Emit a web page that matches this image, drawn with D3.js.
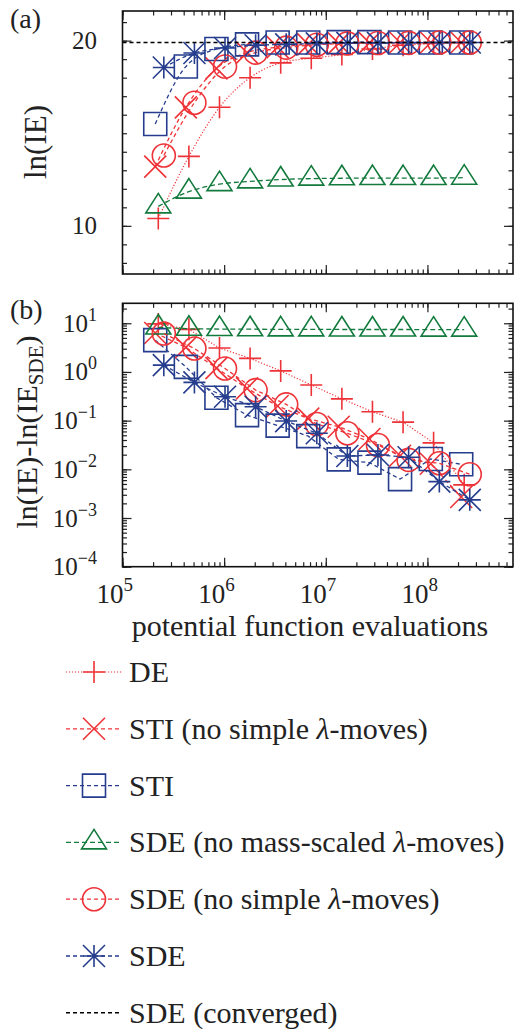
<!DOCTYPE html>
<html>
<head>
<meta charset="utf-8">
<title>IE convergence</title>
<script src="https://cdn.jsdelivr.net/npm/d3@7"></script>
<style>
  body { margin: 0; background: #fff; }
  svg text { font-family: "Liberation Serif", "Times New Roman", serif; fill: #222; }
</style>
</head>
<body>
<svg id="chart" width="515" height="1032"></svg>
<script>
// evaluation counts (x) for each group of runs
var evalsDE  = [2.25e5, 4.5e5, 9.0e5, 1.8e6, 3.6e6, 7.2e6, 1.44e7, 2.88e7, 5.76e7, 1.15e8, 2.3e8];
var evalsSTI = [2.1e5, 4.2e5, 8.4e5, 1.68e6, 3.36e6, 6.72e6, 1.34e7, 2.69e7, 5.38e7, 1.08e8, 2.15e8];
var evalsSDE = [2.55e5, 5.1e5, 1.02e6, 2.04e6, 4.08e6, 8.16e6, 1.63e7, 3.26e7, 6.53e7, 1.31e8, 2.61e8];

// panel (a): ln(IE)
var ieDE          = [10.4, 13.75, 16.4, 18.0, 18.8, 19.05, 19.25, 19.55, 19.75, 19.85, 19.9];
var ieSTInoSimple = [13.2, 16.4, 18.5, 19.35, 19.65, 19.8, 19.85, 19.88, 19.9, 19.9, 19.9];
var ieSTI         = [15.5, 18.6, 19.55, 19.8, 19.9, 19.9, 19.92, 19.92, 19.9, 19.9, 19.9];
var ieSDEnoMass   = [11.05, 11.85, 12.25, 12.4, 12.5, 12.55, 12.57, 12.58, 12.58, 12.58, 12.6];
var ieSDEnoSimple = [13.8, 16.65, 18.6, 19.35, 19.62, 19.78, 19.85, 19.87, 19.88, 19.9, 19.9];
var ieSDE         = [18.55, 19.33, 19.6, 19.75, 19.8, 19.85, 19.88, 19.88, 19.89, 19.9, 19.9];
var ieConverged   = [19.9];

// panel (b): ln(IE) - ln(IE_SDE)
var dDE          = [9.7, 7.5, 3.1, 1.9, 1.05, 0.54, 0.28, 0.152, 0.093, 0.035, 0.0048];
var dSTInoSimple = [6.3, 3.2, 1.2, 0.46, 0.2, 0.11, 0.075, 0.042, 0.019, 0.013, 0.0027];
var dSTI         = [4.5, 1.27, 0.295, 0.13, 0.079, 0.048, 0.016, 0.0137, 0.0063, 0.0163, 0.0127];
var dSDEnoMass   = [8.2, 7.7, 7.6, 7.55, 7.5, 7.5, 7.45, 7.45, 7.45, 7.4, 7.4];
var dSDEnoSimple = [6.15, 3.03, 1.18, 0.424, 0.216, 0.085, 0.055, 0.0316, 0.0156, 0.0133, 0.0079];
var dSDE         = [1.38, 0.61, 0.309, 0.193, 0.098, 0.055, 0.0188, 0.0197, 0.0177, 0.0056, 0.00236];

// ticks and labels
var xMajor = [1e5, 1e6, 1e7, 1e8];
var xExp = ["5", "6", "7", "8"];
var yAMajor = [10, 20];
var yBMajor = [1e1, 1e0, 1e-1, 1e-2, 1e-3, 1e-4];
var yBExp = ["1", "0", "\u22121", "\u22122", "\u22123", "\u22124"];
var legendLabels = ["DE", "STI (no simple \u03bb-moves)", "STI", "SDE (no mass-scaled \u03bb-moves)",
                    "SDE (no simple \u03bb-moves)", "SDE", "SDE (converged)"];

var red = "#ee3338", blue = "#263d8e", green = "#137a3d";

var series = [
  {x: evalsDE,  a: ieDE,          b: dDE,          color: red,   dash: "1.2,1.8", w: 1.2, mk: "plus"},
  {x: evalsSTI, a: ieSTInoSimple, b: dSTInoSimple, color: red,   dash: "4,3",     w: 1.3, mk: "cross"},
  {x: evalsSTI, a: ieSTI,         b: dSTI,         color: blue,  dash: "4,3",     w: 1.3, mk: "square"},
  {x: evalsDE,  a: ieSDEnoMass,   b: dSDEnoMass,   color: green, dash: "5,3",     w: 1.3, mk: "triangle"},
  {x: evalsSDE, a: ieSDEnoSimple, b: dSDEnoSimple, color: red,   dash: "4,3",     w: 1.3, mk: "circle"},
  {x: evalsSDE, a: ieSDE,         b: dSDE,         color: blue,  dash: "4,3",     w: 1.3, mk: "star"}
];

var markers = {
  plus: "M-11,0H11M0,-11V11",
  cross: "M-11,-11L11,11M-11,11L11,-11",
  square: "M-11.5,-11.5h23v23h-23z",
  triangle: "M0,-13L12.5,6.5L-12.5,6.5Z",
  circle: "M-11.5,0a11.5,11.5 0 1,0 23,0a11.5,11.5 0 1,0 -23,0",
  star: "M-11,0H11M0,-11V11M-11,-11L11,11M-11,11L11,-11"
};

var svg = d3.select("#chart");

var left = 122.5, right = 513;
var x = d3.scaleLog().domain([1e5, 6.95e8]).range([left, right]);
var yA = d3.scaleLinear().domain([7.4, 21.6]).range([274, 11]);
var yB = d3.scaleLog().domain([1e-4, 25.7]).range([566.7, 303.3]);

// frame plus inward ticks on all four sides
function frame(y, yMinor, yMajorVals) {
  var top = y.range()[1], bottom = y.range()[0];
  var g = svg.append("g");
  var xMinor = x.ticks();
  [[d3.axisBottom, bottom], [d3.axisTop, top]].forEach(function(p) {
    g.append("g").attr("transform", "translate(0," + p[1] + ")")
      .call(p[0](x).tickValues(xMinor).tickSize(-4.5).tickFormat(""));
    g.append("g").attr("transform", "translate(0," + p[1] + ")")
      .call(p[0](x).tickValues(xMajor).tickSize(-9).tickFormat(""));
  });
  [[d3.axisLeft, left], [d3.axisRight, right]].forEach(function(p) {
    g.append("g").attr("transform", "translate(" + p[1] + ",0)")
      .call(p[0](y).tickValues(yMinor).tickSize(-4.5).tickFormat(""));
    g.append("g").attr("transform", "translate(" + p[1] + ",0)")
      .call(p[0](y).tickValues(yMajorVals).tickSize(-9).tickFormat(""));
  });
  g.selectAll(".domain").remove();
  g.selectAll(".tick line").attr("stroke", "#222").attr("stroke-width", 1.2);
  g.append("rect").attr("x", left).attr("y", top)
    .attr("width", right - left).attr("height", bottom - top)
    .attr("fill", "none").attr("stroke", "#111").attr("stroke-width", 1.6);
}

function drawSeries(y, key, curve) {
  var line = d3.line().curve(curve)
    .x(function(d) { return x(d[0]); })
    .y(function(d) { return y(d[1]); });
  series.forEach(function(s) {
    var pts = s.x.map(function(v, i) { return [v, s[key][i]]; });
    svg.append("path").datum(pts).attr("d", line)
      .attr("fill", "none").attr("stroke", s.color)
      .attr("stroke-width", s.w).attr("stroke-dasharray", s.dash);
    svg.append("g").selectAll("path").data(pts).join("path")
      .attr("transform", function(d) { return "translate(" + x(d[0]) + "," + y(d[1]) + ")"; })
      .attr("d", markers[s.mk])
      .attr("fill", "none").attr("stroke", s.color).attr("stroke-width", 1.6);
  });
}

// panel (a)
drawSeries(yA, "a", d3.curveMonotoneX);
svg.append("line")
  .attr("x1", x.range()[0]).attr("x2", x.range()[1])
  .attr("y1", yA(ieConverged[0])).attr("y2", yA(ieConverged[0]))
  .attr("stroke", "#000").attr("stroke-width", 1.5).attr("stroke-dasharray", "4,3");
frame(yA, yA.ticks(15), yAMajor);

svg.append("g").selectAll("text").data(yAMajor).join("text")
  .attr("x", 97).attr("y", function(d) { return yA(d) + 8.5; })
  .attr("text-anchor", "end").attr("font-size", 25)
  .text(function(d) { return d; });

svg.append("text").attr("transform", "translate(46,142) rotate(-90)")
  .attr("text-anchor", "middle").attr("font-size", 31).text("ln(IE)");
svg.append("text").attr("x", 10).attr("y", 28).attr("font-size", 28).text("(a)");

// panel (b)
drawSeries(yB, "b", d3.curveLinear);
frame(yB, yB.ticks(), yBMajor);

yBMajor.forEach(function(v, i) {
  var t = svg.append("text").attr("x", 97).attr("y", yB(v) + 8.5)
    .attr("text-anchor", "end").attr("font-size", 25);
  t.append("tspan").text("10");
  t.append("tspan").attr("dy", -11).attr("font-size", 18).text(yBExp[i]);
});

xMajor.forEach(function(v, i) {
  var t = svg.append("text").attr("x", x(v) - 26).attr("y", 603).attr("font-size", 27);
  t.append("tspan").text("10");
  t.append("tspan").attr("dy", -12).attr("font-size", 19).text(xExp[i]);
});

var yl = svg.append("text").attr("transform", "translate(37,432) rotate(-90)")
  .attr("text-anchor", "middle").attr("font-size", 30);
yl.append("tspan").text("ln(IE)-ln(IE");
yl.append("tspan").attr("dy", 6).attr("font-size", 21).text("SDE");
yl.append("tspan").attr("dy", -6).text(")");

svg.append("text").attr("x", 310).attr("y", 636).attr("text-anchor", "middle")
  .attr("font-size", 30).text("potential function evaluations");
svg.append("text").attr("x", 10).attr("y", 319).attr("font-size", 28).text("(b)");

// legend
var legendStyles = series.concat([{color: "#000", dash: "4,3", w: 1.5, mk: null}]);
legendLabels.forEach(function(label, i) {
  var cy = 672 + i * 56.8, s = legendStyles[i];
  svg.append("line").attr("x1", 66).attr("x2", 122).attr("y1", cy).attr("y2", cy)
    .attr("stroke", s.color).attr("stroke-width", s.w).attr("stroke-dasharray", s.dash);
  if (s.mk) {
    svg.append("path").attr("transform", "translate(94," + cy + ")")
      .attr("d", markers[s.mk]).attr("fill", "none")
      .attr("stroke", s.color).attr("stroke-width", 1.6);
  }
  var t = svg.append("text").attr("x", 129).attr("y", cy + 10).attr("font-size", 30);
  label.split("\u03bb").forEach(function(part, j) {
    if (j > 0) t.append("tspan").attr("font-style", "italic").text("\u03bb");
    t.append("tspan").text(part);
  });
});
</script>
</body>
</html>
